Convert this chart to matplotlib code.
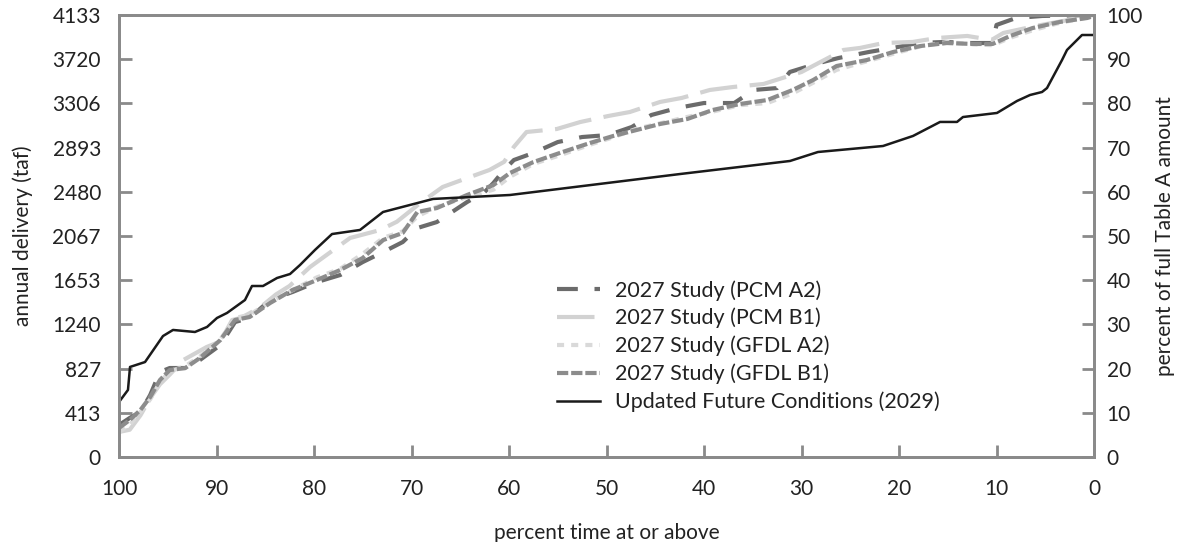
import numpy as np
import matplotlib.pyplot as plt

plt.rcParams['font.family'] = ['Lato', 'DejaVu Sans']

# exceedance (percent time at or above) and annual delivery (taf)
pcm_a2_x = [100, 98.9, 97.8, 96.8, 95.8, 94.8, 93.2, 91.7, 89.6, 88.1, 86.6, 84.5, 82.2, 79.7,
            77.3, 75.0, 72.9, 70.9, 69.4, 67.4, 64.3, 62.5, 61.6, 60.5, 59.5, 57.5, 55.0, 52.5,
            49.8, 47.4, 45.4, 42.7, 40.0, 36.9, 34.9, 32.5, 31.2, 28.2, 26.2, 23.1, 20.1, 18.1,
            15.3, 12.6, 10.4, 10.0, 8.0, 5.3, 3.0, 0]
pcm_a2_y = [299, 365, 421, 580, 795, 832, 832, 907, 1047, 1262, 1300, 1468, 1543, 1636,
            1702, 1823, 1917, 2010, 2141, 2197, 2384, 2478, 2562, 2684, 2777, 2843, 2945, 2992,
            3011, 3086, 3198, 3264, 3310, 3310, 3432, 3450, 3600, 3684, 3731, 3787, 3834, 3871,
            3881, 3871, 3871, 4040, 4105, 4124, 4128, 4133]

pcm_b1_x = [100, 98.9, 97.8, 96.8, 95.8, 94.8, 93.4, 91.0, 89.6, 88.4, 87.5, 85.5, 83.9, 82.5,
            80.4, 78.0, 76.3, 73.2, 71.5, 69.1, 66.8, 64.0, 62.0, 60.5, 59.5, 58.2, 55.1, 52.7,
            49.8, 47.6, 44.5, 42.3, 39.4, 37.0, 33.9, 30.0, 27.5, 25.7, 24.0, 21.6, 18.6, 16.1,
            13.0, 10.5, 9.3, 6.0, 3.0, 0]
pcm_b1_y = [234, 255, 390, 550, 680, 770, 907, 1029, 1080, 1281, 1300, 1400, 1520, 1600,
            1777, 1936, 2048, 2123, 2200, 2375, 2525, 2618, 2684, 2760, 2900, 3039, 3067, 3132,
            3189, 3226, 3320, 3357, 3432, 3460, 3488, 3600, 3720, 3806, 3825, 3871, 3881, 3918,
            3937, 3900, 3965, 4030, 4080, 4133]

gfdl_x = [100, 98.9, 97.8, 96.8, 95.8, 94.8, 93.2, 91.7, 89.6, 88.1, 86.6, 84.5, 82.2, 79.7,
          77.3, 75.0, 72.9, 70.9, 69.4, 67.4, 64.3, 61.6, 59.9, 57.5, 54.5, 51.7, 49.3, 46.9,
          44.5, 41.7, 39.1, 36.3, 33.5, 30.9, 28.8, 26.4, 23.3, 20.6, 17.8, 15.1, 12.4, 10.4,
          8.6, 6.3, 3.5, 0.7, 0]
gfdl_a2_y = [234, 300, 420, 540, 700, 800, 850, 940, 1100, 1300, 1330, 1450, 1560, 1680,
             1760, 1900, 2050, 2110, 2250, 2340, 2430, 2500, 2620, 2740, 2830, 2920, 2990, 3070,
             3120, 3180, 3230, 3290, 3310, 3400, 3500, 3620, 3700, 3770, 3840, 3880, 3860, 3850,
             3920, 3990, 4060, 4110, 4133]
gfdl_b1_y = [271, 346, 440, 561, 720, 813, 832, 926, 1094, 1281, 1309, 1440, 1562, 1655,
             1749, 1861, 2029, 2095, 2291, 2328, 2450, 2543, 2656, 2758, 2852, 2936, 3002, 3058,
             3114, 3161, 3245, 3301, 3338, 3432, 3525, 3656, 3712, 3787, 3843, 3871, 3862, 3862,
             3937, 4011, 4068, 4105, 4124]

ufc_x = [100, 99.08, 98.87, 97.33, 95.49, 94.46, 92.21, 90.97, 89.95, 88.92, 87.08, 86.36,
         85.23, 83.79, 82.46, 81.44, 79.9, 78.15, 75.28, 72.92, 67.79, 59.9, 42.46, 31.18,
         28.31, 21.64, 18.56, 15.79, 14.05, 13.44, 9.95, 7.9, 6.56, 5.33, 4.82, 3.28, 2.77,
         1.23, 0]
ufc_y = [514, 627, 842, 888, 1131, 1188, 1169, 1216, 1300, 1347, 1468, 1599,
         1599, 1674, 1711, 1795, 1936, 2085, 2123, 2291, 2413, 2450, 2646, 2768,
         2852, 2908, 3002, 3133, 3133, 3179, 3217, 3329, 3385, 3413, 3450, 3712, 3806,
         3946, 3946]

y_ticks = [0, 413, 827, 1240, 1653, 2067, 2480, 2893, 3306, 3720, 4133]
x_ticks = [100, 90, 80, 70, 60, 50, 40, 30, 20, 10, 0]
pct_ticks = [0, 10, 20, 30, 40, 50, 60, 70, 80, 90, 100]

fig = plt.figure(figsize=(11.81, 5.42), dpi=100)
ax = fig.add_axes([119 / 1181, 1 - 457 / 542, 975 / 1181, 442 / 542])

lw = 3.0
ax.plot(pcm_a2_x, pcm_a2_y, color='#6b6b6b', lw=lw, dashes=(5, 4), label='2027 Study (PCM A2)')
ax.plot(pcm_b1_x, pcm_b1_y, color='#d2d2d2', lw=lw, dashes=(9, 3), label='2027 Study (PCM B1)')
ax.plot(gfdl_x, gfdl_a2_y, color='#d9d9d9', lw=lw, dashes=(1.7, 1.7), label='2027 Study (GFDL A2)')
ax.plot(gfdl_x, gfdl_b1_y, color='#8c8c8c', lw=lw, dashes=(2.7, 0.7), label='2027 Study (GFDL B1)')
ax.plot(ufc_x, ufc_y, color='#1a1a1a', lw=1.8, label='Updated Future Conditions (2029)')

ax.set_xlim(100, 0)
ax.set_ylim(0, 4133)
ax.set_xticks(x_ticks)
ax.set_yticks(y_ticks)

ax2 = ax.twinx()
ax2.set_ylim(0, 100)
ax2.set_yticks(pct_ticks)

spine_c = '#8a8a8a'
txt_c = '#222222'
for a in (ax, ax2):
    for s in a.spines.values():
        s.set_color(spine_c)
        s.set_linewidth(2)
    a.tick_params(direction='in', length=9, width=2, color=spine_c,
                  labelsize=15, labelcolor=txt_c)
ax.tick_params(axis='y', pad=13)
ax.tick_params(axis='x', pad=16)
ax2.tick_params(axis='y', pad=9)

ax.set_xlabel('percent time at or above', fontsize=15, color=txt_c, labelpad=17)
ax.set_ylabel('annual delivery (taf)', fontsize=15, color=txt_c, labelpad=14)
ax2.set_ylabel('percent of full Table A amount', fontsize=15, color=txt_c)
ax2.yaxis.set_label_coords(1.063, 0.5)

leg = ax.legend(loc='upper left', bbox_to_anchor=(0.44, 0.42), frameon=False,
                fontsize=15.5, handlelength=2.0, handletextpad=0.7, labelspacing=0.34,
                borderaxespad=0)
for t in leg.get_texts():
    t.set_color(txt_c)

fig.savefig('out.png', dpi=100)
